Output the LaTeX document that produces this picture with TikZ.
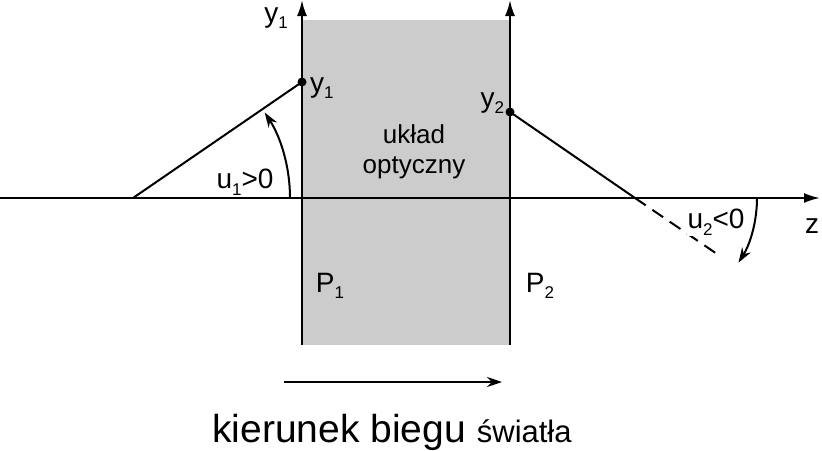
\documentclass[tikz,border=0pt]{standalone}
\usepackage{fontspec}
\setmainfont{Liberation Sans}
\usetikzlibrary{arrows.meta}
\newcommand{\lowidx}[1]{\raisebox{-.45ex}{\fontsize{17}{17}\selectfont #1}}
\tikzset{lbl/.style={font=\fontsize{28}{28}\selectfont,inner sep=0pt},
         ax/.style={line width=2.2pt,-{Latex[length=16pt,width=10pt]}}}
\begin{document}
\begin{tikzpicture}[x=1pt,y=-1pt,line width=2pt]
\useasboundingbox (0,0) rectangle (822,450);
\fill[gray!40] (302,20) rectangle (510,345);
% axes
\coordinate (zL) at (0,198);
\coordinate (zR) at (820,198);
\draw[ax] (zL) -- (zR);
\node[lbl] (z) at (812,226) {z};
\coordinate (A1) at (302,345);
\coordinate (A1t) at (302,0);
\coordinate (A2) at (510,345);
\coordinate (A2t) at (510,0);
\draw[ax] (A1) -- (A1t);
\draw[ax] (A2) -- (A2t);
\node[lbl] (yax) at (276,18) {y\lowidx{1}};
% ray 1
\coordinate (S1) at (133,198);
\coordinate (Y1) at (302,82);
\draw (S1) -- (Y1);
\fill (Y1) circle (4.5);
\node[lbl,anchor=west] (y1) at (309,88) {y\lowidx{1}};
\draw[-{Stealth[length=15pt,width=10pt]}] (290,198) arc[start angle=0,end angle=-33,radius=157];
\node[lbl] (u1) at (245,182) {u\lowidx{1}>0};
% ray 2
\coordinate (Y2) at (510,112);
\coordinate (S2) at (635,198);
\coordinate (D2) at (720,256);
\draw (Y2) -- (S2);
\draw[dashed,dash pattern=on 13pt off 8pt] (S2) -- (D2);
\fill (Y2) circle (4.5);
\node[lbl,anchor=east] (y2) at (505,103) {y\lowidx{2}};
\draw[-{Stealth[length=15pt,width=10pt]}] (757,198) arc[start angle=0,end angle=32,radius=122];
\node[lbl,fill=white,inner sep=1pt] (u2) at (716,222) {u\lowidx{2}<0};
% texts
\node[align=center,font=\fontsize{26}{30}\selectfont] (uk) at (414,152) {układ\\optyczny};
\node[lbl] (p1) at (330,286) {P\lowidx{1}};
\node[lbl] (p2) at (540,286) {P\lowidx{2}};
\coordinate (K1) at (284,382);
\coordinate (K2) at (502,382);
\draw[-{Stealth[length=15pt,width=10pt]}] (K1) -- (K2);
\node[font=\fontsize{39}{39}\selectfont] (kb) at (392,432) {kierunek biegu {\fontsize{31}{31}\selectfont światła}};
\end{tikzpicture}
\end{document}
